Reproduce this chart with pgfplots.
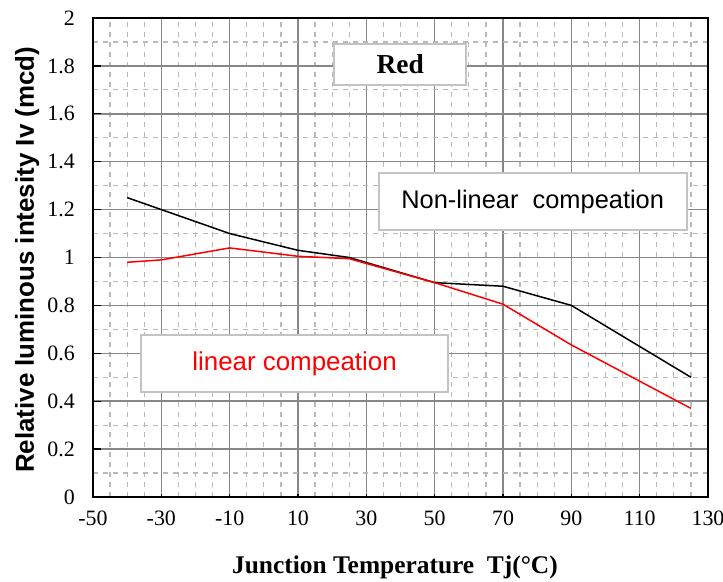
\documentclass[border=0pt]{standalone}
\usepackage{fontspec}
\setmainfont{Liberation Serif}
\setsansfont{Liberation Sans}
\usepackage{pgfplots}
\pgfplotsset{compat=1.18}
\definecolor{majg}{RGB}{135,135,135}
\definecolor{ming}{RGB}{185,185,185}
\definecolor{boxg}{RGB}{195,195,195}
\begin{document}
\begin{tikzpicture}
\useasboundingbox (-93bp,-85bp) rectangle (630bp,497bp);
\begin{axis}[
  scale only axis,
  width=615bp, height=479bp,
  xmin=-50, xmax=130, ymin=0, ymax=2,
  xtick={-50,-30,-10,10,30,50,70,90,110,130},
  xticklabels={-50,-30,-10,10,30,50,70,90,110,130},
  ytick={0,0.2,0.4,0.6,0.8,1,1.2,1.4,1.6,1.8,2},
  yticklabels={0,0.2,0.4,0.6,0.8,1,1.2,1.4,1.6,1.8,2},
  minor x tick num=3,
  minor y tick num=1,
  grid=both,
  major grid style={draw=majg, line width=1.5bp},
  minor grid style={draw=ming, line width=1.2bp, dash pattern=on 5bp off 5bp},
  axis line style={black, line width=2.6bp},
  tick pos=left,
  tick align=inside,
  major tick length=8bp,
  minor tick length=0bp,
  tick style={black, line width=1.3bp},
  xtick style={/pgfplots/major tick length=3bp},
  xticklabel style={font=\fontsize{22}{22}\selectfont, anchor=north, inner sep=0pt, yshift=-14bp},
  yticklabel style={font=\fontsize{22}{22}\selectfont, anchor=east, inner sep=0pt, xshift=-18bp},
  xlabel={Junction Temperature\ \ Tj(\textdegree C)},
  ylabel={Relative luminous intesity Iv (mcd)},
  xlabel style={font=\fontsize{25.5}{25.5}\selectfont\bfseries, at={(axis description cs:0.491,-0.147)}, anchor=center},
  ylabel style={font=\fontsize{26}{26}\selectfont\sffamily\bfseries, at={(axis description cs:-0.107,0.495)}, anchor=center, rotate=0},
  clip=false,
]
\addplot[black, line width=1.5bp] coordinates {
  (-40,1.25) (-10,1.10) (10,1.03) (25,1.0) (50,0.895) (70,0.88) (90,0.80) (125,0.50)
};
\addplot[red, line width=1.5bp] coordinates {
  (-40,0.98) (-30,0.99) (-10,1.04) (10,1.005) (25,0.995) (50,0.895) (70,0.805) (90,0.635) (125,0.37)
};
\node[draw=boxg, line width=2bp, fill=white, minimum width=132bp, minimum height=41bp, inner sep=0pt,
  font=\fontsize{27.5}{27.5}\selectfont\bfseries] at (axis cs:39.9,1.806) {Red};
\node[draw=boxg, line width=2bp, fill=white, minimum width=308bp, minimum height=57bp, inner sep=0pt,
  font=\fontsize{25.5}{25.5}\selectfont\sffamily] at (axis cs:78.7,1.234) {Non-linear\ \ compeation};
\node[draw=boxg, line width=2bp, fill=white, minimum width=307bp, minimum height=57bp, inner sep=0pt,
  font=\fontsize{26}{26}\selectfont\sffamily, text=red] at (axis cs:9.0,0.558) {linear compeation};
\end{axis}
\end{tikzpicture}
\end{document}
